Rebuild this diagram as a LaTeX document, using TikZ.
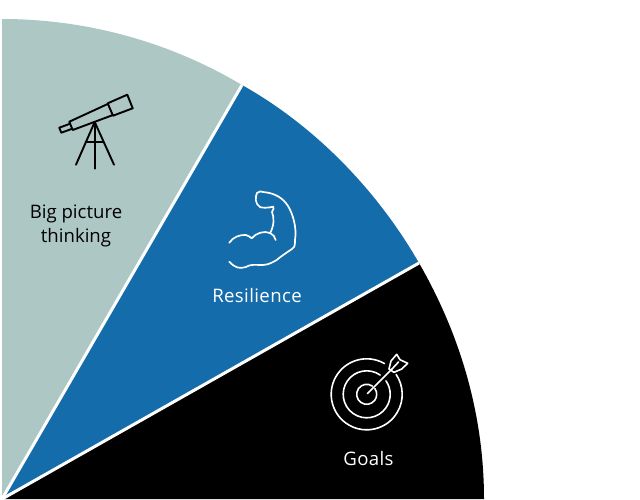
\documentclass[tikz,border=0pt]{standalone}
\usepackage{fontspec}
\setmainfont{Open Sans}
\definecolor{sage}{HTML}{ADC7C4}
\definecolor{midblue}{HTML}{156CAB}
\tikzset{
  x=1pt,y=1pt,
  wedge/.style={white,line width=3pt,line cap=butt},
  icon/.style={line width=#1,line join=round,line cap=round},
  label/.style={font=\fontsize{18.6}{24}\selectfont,align=center,inner sep=0pt},
  spaced/.style={font=\fontsize{18.6}{24}\selectfont\addfontfeature{LetterSpace=2}}
}
\begin{document}
\begin{tikzpicture}[yscale=-1]
\useasboundingbox (0,0) rectangle (640,499);
\coordinate (apex) at (2,499);
\coordinate (t) at (2,19);
\coordinate (a) at (242,85);
\coordinate (b) at (419,263);
\coordinate (e) at (484,499);
\fill[white] (0,0) rectangle (640,499);
\begin{scope}
\clip (0,0) rectangle (640,499);
\fill[sage] (apex) -- (t) .. controls (85,19) and (168,41) .. (a) -- cycle;
\fill[midblue] (apex) -- (a) .. controls (315,126) and (377,190) .. (b) -- cycle;
\fill[black] (apex) -- (b) .. controls (461,336) and (484,416) .. (e) -- cycle;
\draw[wedge] (apex) -- (a);
\draw[wedge] (apex) -- (b);
\end{scope}
% telescope
\begin{scope}[black,icon=1.9pt]
\draw (107.7,103.3) -- (127.3,94.7) -- (132.7,108.3) -- (113,115.7) -- cycle;
\draw (107.7,104) -- (69.3,121.7) -- (72.7,130) -- (113,115);
\draw (69.3,124) -- (59.3,127.7) -- (61.3,132.7) -- (72.3,128.7);
\draw (94.7,122) -- (76,164.7);
\draw (94.7,122) -- (114,164.7);
\draw (94.7,122) -- (94.7,168.7);
\draw (85.7,142.3) -- (103.3,142.3);
\end{scope}
% muscle
\begin{scope}[white,icon=1.7pt]
\draw (229.3,242.7) .. controls (233,237) and (240,234.5) .. (246,235) .. controls (248,235.5) and (250,237) .. (251.7,238.3)
  .. controls (256,233) and (264,230.5) .. (270,233) .. controls (273,234) and (275,237) .. (275.7,240);
\draw (270,233.3) .. controls (274,226) and (274.5,218) .. (272,212) .. controls (273.5,209) and (274,208) .. (273.3,206.7)
  .. controls (268,208) and (262,208) .. (260,207) .. controls (255,204) and (255,197) .. (257,193)
  .. controls (259,191) and (262,191) .. (263,192) .. controls (275,193) and (283,198) .. (288,206)
  .. controls (293,214) and (297,228) .. (295,240) .. controls (295,247) and (294,248) .. (292,249)
  .. controls (286,253) and (280,257) .. (276.7,260) .. controls (270,264) and (266,265) .. (262,265)
  .. controls (256,265) and (250,264) .. (246,267) .. controls (240,269) and (235,268) .. (229.3,261.7);
\end{scope}
% target
\begin{scope}[white,icon=1.6pt]
\coordinate (c) at (366.7,394.3);
\draw ([shift={(-60:35.5)}]c) arc[start angle=-60,end angle=-394,radius=35.5];
\draw ([shift={(-55:23.5)}]c) arc[start angle=-55,end angle=-395,radius=23.5];
\draw ([shift={(-55:10)}]c) arc[start angle=-55,end angle=-395,radius=10];
\draw (367.5,393.5) -- (392,369);
\draw (389,369) -- (391,361) -- (396.7,354.3) -- (400,359.7) -- (407.7,363.3) -- (401.7,369) -- (394,372.3) -- cycle;
\draw (392,369) -- (398.5,362);
\end{scope}
\node[label,text=black] (big) at (76,226) {Big picture\\thinking};
\node[label,spaced,text=white] (res) at (257,296) {Resilience};
\node[label,spaced,text=white] (goals) at (368.5,459) {Goals};
\end{tikzpicture}
\end{document}
